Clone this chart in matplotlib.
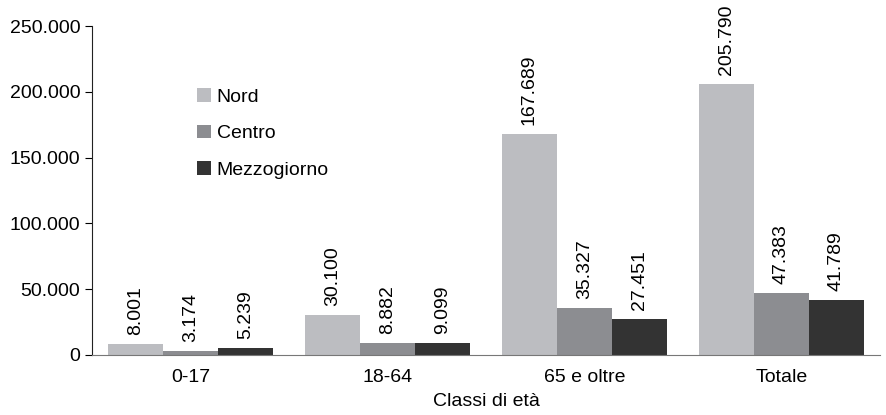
import matplotlib.pyplot as plt
import numpy as np

plt.rcParams["font.family"] = ["Liberation Sans", "DejaVu Sans"]

categorie = ["0-17", "18-64", "65 e oltre", "Totale"]
serie = ["Nord", "Centro", "Mezzogiorno"]
nord = [8001, 30100, 167689, 205790]
centro = [3174, 8882, 35327, 47383]
mezzogiorno = [5239, 9099, 27451, 41789]
colori = ["#bcbdc1", "#8c8d91", "#333333"]


def fmt_it(v):
    return f"{v:,.0f}".replace(",", ".")


fig = plt.figure(figsize=(8.86, 4.15), dpi=100)
ax = fig.add_axes([0.104, 0.145, 0.889, 0.792])

x = np.arange(len(categorie))
larghezza = 0.28
valori = [nord, centro, mezzogiorno]
for i, (nome, vals, col) in enumerate(zip(serie, valori, colori)):
    pos = x + (i - 1) * larghezza
    barre = ax.bar(pos, vals, width=larghezza, color=col, label=nome)
    for b, v in zip(barre, vals):
        ax.annotate(fmt_it(v), (b.get_x() + b.get_width() / 2, v),
                    xytext=(0, 6.5), textcoords="offset points",
                    rotation=90, ha="center", va="bottom", fontsize=14)

ax.set_xlim(-0.5, 3.5)
ax.set_ylim(0, 250000)
ax.set_yticks(np.arange(0, 250001, 50000))
ax.yaxis.set_major_formatter(plt.FuncFormatter(lambda v, p: fmt_it(v)))
ax.set_xticks(x)
ax.set_xticklabels(categorie)
ax.tick_params(axis="x", length=0, pad=10, labelsize=14)
ax.tick_params(axis="y", length=5, labelsize=14, direction="out")
ax.set_xlabel("Classi di età", fontsize=14, labelpad=5)

for s in ["top", "right"]:
    ax.spines[s].set_visible(False)
ax.spines["bottom"].set_color("#777777")
ax.spines["left"].set_color("#222222")

ax.legend(loc="upper left", bbox_to_anchor=(0.203, 0.83), bbox_transform=fig.transFigure,
          frameon=False, fontsize=14, handlelength=0.7, handleheight=0.7,
          handletextpad=0.3, labelspacing=0.98)

fig.savefig("out.png", dpi=100)
